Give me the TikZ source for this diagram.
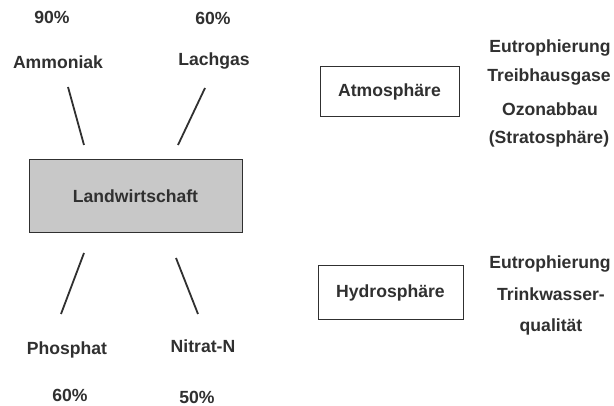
\documentclass[tikz,border=0pt]{standalone}
\usepackage{fontspec}
\setmainfont{Liberation Sans}
\definecolor{txt}{HTML}{303030}
\definecolor{boxfill}{HTML}{C8C8C8}
\begin{document}
\begin{tikzpicture}[x=1pt,y=-1pt,
  lbl/.style={font=\bfseries\fontsize{17.6}{20}\selectfont, text=txt, inner sep=0pt},
  framebox/.style={draw=txt, line width=1pt, inner sep=0pt},
  link/.style={draw=txt, line width=1.8pt}]
\useasboundingbox (0,0) rectangle (614,406);
\fill[white] (0,0) rectangle (614,406);
% top labels
\node[lbl] (p90) at (52,17) {90\%};
\node[lbl] (p60a) at (213,18) {60\%};
\node[lbl] (amm) at (58,62) {Ammoniak};
\node[lbl] (lach) at (214,61) {Lachgas};
% central box
\node[framebox, fill=boxfill, minimum width=213pt, minimum height=73pt] (land) at (135.5,196.5) {};
\node[lbl] at (land) {Landwirtschaft};
% bottom labels
\node[lbl] (phos) at (67,350) {Phosphat};
\node[lbl] (nitr) at (203,346) {Nitrat-N};
\node[lbl] (p60b) at (70,395) {60\%};
\node[lbl] (p50) at (197,397) {50\%};
% connector endpoints
\coordinate (a1) at (68,87);   \coordinate (a2) at (84,145);
\coordinate (l1) at (205,88);  \coordinate (l2) at (178,145);
\coordinate (h1) at (84,253);  \coordinate (h2) at (61,314);
\coordinate (n1) at (176,258); \coordinate (n2) at (198,314);
\draw[link] (a1) -- (a2);
\draw[link] (l1) -- (l2);
\draw[link] (h1) -- (h2);
\draw[link] (n1) -- (n2);
% spheres
\node[framebox, minimum width=139pt, minimum height=50pt] (atm) at (389.5,92) {};
\node[lbl] at (atm) {Atmosphäre};
\node[framebox, minimum width=145pt, minimum height=54pt] (hyd) at (390.5,293) {};
\node[lbl] at (hyd) {Hydrosphäre};
% effects
\node[lbl] (e1) at (550,48) {Eutrophierung};
\node[lbl] (e2) at (549,77) {Treibhausgase};
\node[lbl] (e3) at (550,109) {Ozonabbau};
\node[lbl] (e4) at (549,139) {(Stratosphäre)};
\node[lbl] (f1) at (550,264) {Eutrophierung};
\node[lbl] (f2) at (551,294) {Trinkwasser-};
\node[lbl] (f3) at (551,327) {qualität};
\end{tikzpicture}
\end{document}
